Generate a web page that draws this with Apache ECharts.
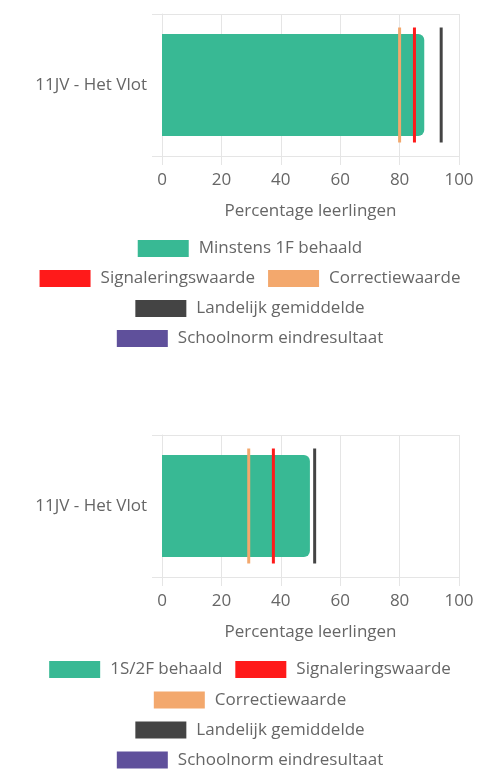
<!DOCTYPE html>
<html>
<head>
<meta charset="utf-8">
<script src="https://cdn.jsdelivr.net/npm/echarts@6/dist/echarts.min.js"></script>
<style>
html,body{margin:0;padding:0;background:#fff;overflow:hidden;}
#c{width:500px;height:769px;}
</style>
</head>
<body>
<div id="c"></div>
<script>
// ---- data ----
const categories = ['11JV - Het Vlot'];
const xTicks = [0, 20, 40, 60, 80, 100];

// chart 1
const c1BarName = 'Minstens 1F behaald';
const c1Bar = [88.3];
const c1Signalering = [85];
const c1Correctie = [80];
const c1Landelijk = [94];

// chart 2
const c2BarName = '1S/2F behaald';
const c2Bar = [49.8];
const c2Signalering = [37.5];
const c2Correctie = [29.2];
const c2Landelijk = [51.4];

const schoolnorm = [];

// ---- styles ----
const FONT = 'Open Sans';
const FS = 17;
const TXT = '#666';
const GRID = '#e5e5e5';
const COL = {
  bar: '#38b994',
  sig: '#ff1a1a',
  cor: '#f3a86d',
  land: '#444444',
  school: '#5f509b'
};

function gridAxis(idx, top) {
  return {
    grid: { left: 162, right: 41, top: top, height: 142, containLabel: false },
    x: {
      type: 'value', gridIndex: idx, min: 0, max: 100, interval: 20,
      axisLine: { show: true, lineStyle: { color: GRID } },
      axisTick: { show: true, length: 9, lineStyle: { color: GRID } },
      splitLine: { show: true, lineStyle: { color: GRID } },
      axisLabel: { color: TXT, fontFamily: FONT, fontSize: FS, margin: 16,
        formatter: v => xTicks.includes(v) ? String(v) : '' },
      name: 'Percentage leerlingen', nameLocation: 'middle', nameGap: 47,
      nameTextStyle: { color: TXT, fontFamily: FONT, fontSize: FS }
    },
    y: {
      type: 'category', gridIndex: idx, data: categories,
      axisLine: { show: true, lineStyle: { color: GRID } },
      axisTick: { show: true, length: 10, lineStyle: { color: GRID } },
      splitLine: { show: true, lineStyle: { color: GRID } },
      axisLabel: { color: TXT, fontFamily: FONT, fontSize: FS, margin: 15 }
    }
  };
}

const g1 = gridAxis(0, 14);
const g2 = gridAxis(1, 435);

function lineSeries(name, data, color, idx) {
  return {
    name: name, type: 'scatter', xAxisIndex: idx, yAxisIndex: idx,
    data: data.map((v, i) => [v, categories[i]]),
    symbol: 'rect', symbolSize: [3, 115],
    itemStyle: { color: color, opacity: 1 },
    z: 5
  };
}

function barSeries(name, data, idx) {
  return {
    name: name, type: 'bar', xAxisIndex: idx, yAxisIndex: idx,
    data: data, barWidth: '72%',
    itemStyle: { color: COL.bar, borderRadius: [0, 6, 6, 0] },
    z: 2
  };
}

function legendOnly(name, data, color, idx) {
  return {
    name: name, type: 'scatter', xAxisIndex: idx, yAxisIndex: idx,
    data: data, itemStyle: { color: color, opacity: 1 }
  };
}

function legendRow(top, names) {
  return {
    top: top, left: 'center', padding: 0, itemGap: 13,
    itemWidth: 51, itemHeight: 17, icon: 'rect',
    data: names,
    textStyle: { color: TXT, fontFamily: FONT, fontSize: FS, padding: [0, 0, 0, 5] },
    selectedMode: true
  };
}

const option = {
  animation: false,
  backgroundColor: '#fff',
  grid: [g1.grid, g2.grid],
  xAxis: [g1.x, g2.x],
  yAxis: [g1.y, g2.y],
  legend: [
    legendRow(240, [c1BarName]),
    legendRow(270, ['Signaleringswaarde', 'Correctiewaarde']),
    legendRow(300, ['Landelijk gemiddelde']),
    legendRow(330, ['Schoolnorm eindresultaat']),
    legendRow(661, [c2BarName, 'Signaleringswaarde']),
    legendRow(691.5, ['Correctiewaarde']),
    legendRow(721.5, ['Landelijk gemiddelde']),
    legendRow(751.5, ['Schoolnorm eindresultaat'])
  ],
  series: [
    barSeries(c1BarName, c1Bar, 0),
    lineSeries('Signaleringswaarde', c1Signalering, COL.sig, 0),
    lineSeries('Correctiewaarde', c1Correctie, COL.cor, 0),
    lineSeries('Landelijk gemiddelde', c1Landelijk, COL.land, 0),
    legendOnly('Schoolnorm eindresultaat', schoolnorm, COL.school, 0),
    barSeries(c2BarName, c2Bar, 1),
    lineSeries('Signaleringswaarde', c2Signalering, COL.sig, 1),
    lineSeries('Correctiewaarde', c2Correctie, COL.cor, 1),
    lineSeries('Landelijk gemiddelde', c2Landelijk, COL.land, 1),
    legendOnly('Schoolnorm eindresultaat', schoolnorm, COL.school, 1)
  ]
};

const chart = echarts.init(document.getElementById('c'), null, { renderer: 'canvas' });
chart.setOption(option);
</script>
</body>
</html>
